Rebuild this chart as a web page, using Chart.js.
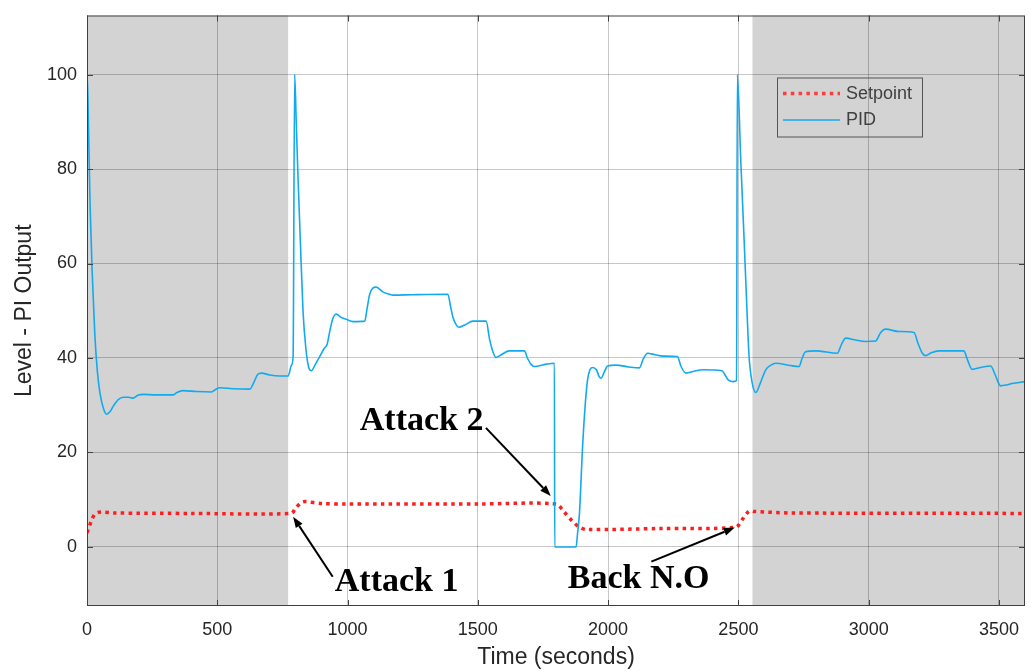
<!DOCTYPE html>
<html>
<head>
<meta charset="utf-8">
<script src="https://cdn.jsdelivr.net/npm/chart.js@4"></script>
<style>
  html, body { margin: 0; padding: 0; background: #fff; }
</style>
</head>
<body>
<canvas id="chart" width="1031" height="671"></canvas>
<script>
// PID output (time in seconds, level)
const pidTime = [0, 1, 6, 12, 20, 30, 40, 50, 62, 75, 88, 101, 120, 139, 160, 177, 195, 216, 260, 331, 345, 369, 420, 478, 495, 510, 560, 625, 640, 655, 670, 701, 740, 772, 785, 791,
  797, 803, 810, 818, 829, 840, 850, 861, 875, 893, 910, 921, 933, 944, 957, 975, 995, 1021, 1066, 1075, 1085, 1097, 1110, 1135, 1161, 1174, 1250, 1385, 1395, 1405, 1417, 1427, 1450, 1481,
  1532, 1545, 1560, 1570, 1590, 1621, 1679, 1690, 1705, 1717, 1762, 1794, 1795, 1877, 1883, 1890, 1902, 1912, 1921, 1930, 1940, 1955, 1966, 1973, 1985, 1998, 2030, 2080, 2120, 2135,
  2151, 2180, 2209, 2266, 2280, 2299, 2330, 2362, 2437, 2450, 2462, 2480, 2493, 2496, 2509, 2522, 2533, 2541, 2552, 2567, 2585, 2605, 2625, 2643, 2700, 2733, 2745, 2758, 2797, 2880,
  2895, 2912, 2950, 2988, 3027, 3045, 3065, 3116, 3174, 3190, 3206, 3218, 3240, 3269, 3365, 3380, 3397, 3430, 3468, 3485, 3499, 3506, 3530, 3550, 3600];
const pidLevel = [0, 100, 88, 72, 58, 45, 37, 32.5, 29.5, 28.1, 28.6, 29.8, 31.2, 31.7, 31.7, 31.5, 32.1, 32.3, 32.2, 32.2, 32.7, 33.1, 32.9, 32.8, 33.4, 33.7, 33.5, 33.4, 34.8, 36.5, 36.8, 36.4, 36.2, 36.2, 38.5, 40.3,
  100, 90, 78, 66, 50, 42, 38.2, 37.3, 38.5, 40.3, 42, 42.8, 46, 48.4, 49.3, 48.6, 48.2, 47.7, 47.8, 50.5, 53.5, 54.8, 55.0, 54.0, 53.5, 53.3, 53.4, 53.5, 51, 48.5, 47.0, 46.5, 47, 47.8,
  47.8, 44, 41, 40.1, 40.7, 41.5, 41.5, 40, 38.6, 38.2, 38.7, 38.9, 0, 0, 3, 7.1, 21.2, 30, 35.3, 37.5, 38.0, 37.5, 36, 35.7, 37, 38.3, 38.5, 38.1, 37.9, 39.8,
  41.0, 40.7, 40.4, 40.3, 38.2, 36.8, 37.2, 37.5, 37.3, 36.3, 35.3, 35.0, 35.2, 100, 82, 65, 50, 40.3, 35, 32.7, 34.8, 37.5, 38.5, 38.9, 38.4, 38.2, 40, 41.3, 41.5, 41.0,
  42.8, 44.2, 43.8, 43.5, 43.6, 45.3, 46.1, 45.6, 45.4, 43, 41.0, 40.5, 41.1, 41.5, 41.5, 39.5, 37.6, 38, 38.3, 36.5, 34.6, 34.1, 34.3, 34.6, 35.0];

// Setpoint
const spTime = [0, 10, 20, 30, 42, 60, 100, 400, 784, 800, 823, 838, 900, 995, 1500, 1800, 1830, 1864, 1890, 1915, 2200, 2490, 2515, 2541, 2560, 2700, 3600];
const spLevel = [3.0, 4.5, 6.0, 6.9, 7.3, 7.4, 7.2, 7.1, 7.1, 8.2, 9.4, 9.6, 9.2, 9.1, 9.1, 9.1, 7.5, 5.4, 4.2, 3.7, 3.9, 4.2, 5.8, 7.6, 7.5, 7.2, 7.1];

const xTicks = [0, 500, 1000, 1500, 2000, 2500, 3000, 3500];
const yTicks = [0, 20, 40, 60, 80, 100];

// normal-operation periods (grey)
const shadedSpans = [[0, 772], [2554, 3600]];

const notes = [
  { text: 'Attack 1', tx: 951, ty: -9.3, from: [943, -6.3], to: [791, 6.4] },
  { text: 'Attack 2', tx: 1047, ty: 24.8, from: [1531, 25.2], to: [1780, 10.8] },
  { text: 'Back N.O', tx: 1845, ty: -8.7, from: [2166, -3.1], to: [2486, 4.1] }
];

const sans = '"Liberation Sans", Arial, sans-serif';
const gridColor = 'rgba(0,0,0,0.22)';

const shadePlugin = {
  id: 'shade',
  beforeDraw(chart) {
    const { ctx, chartArea: a, scales: { x } } = chart;
    ctx.save();
    ctx.fillStyle = '#d3d3d3';
    shadedSpans.forEach(([s, e]) => {
      const x0 = Math.max(x.getPixelForValue(s), a.left);
      const x1 = Math.min(x.getPixelForValue(e), a.right);
      ctx.fillRect(x0, a.top, x1 - x0, a.bottom - a.top);
    });
    ctx.restore();
  }
};

function arrow(ctx, x0, y0, x1, y1) {
  const ang = Math.atan2(y1 - y0, x1 - x0);
  const len = 11, w = 4;
  ctx.beginPath();
  ctx.moveTo(x0, y0);
  ctx.lineTo(x1 - Math.cos(ang) * len, y1 - Math.sin(ang) * len);
  ctx.stroke();
  ctx.beginPath();
  ctx.moveTo(x1, y1);
  ctx.lineTo(x1 - Math.cos(ang) * len - Math.sin(ang) * w, y1 - Math.sin(ang) * len + Math.cos(ang) * w);
  ctx.lineTo(x1 - Math.cos(ang) * len + Math.sin(ang) * w, y1 - Math.sin(ang) * len - Math.cos(ang) * w);
  ctx.closePath();
  ctx.fill();
}

const overlayPlugin = {
  id: 'overlay',
  afterDraw(chart) {
    const { ctx, chartArea: a, scales: { x, y } } = chart;
    ctx.save();

    // axes box + inward ticks
    ctx.strokeStyle = '#404040';
    ctx.lineWidth = 1;
    ctx.strokeRect(a.left + 0.5, a.top + 0.5, a.right - a.left - 1, a.bottom - a.top - 1);
    ctx.beginPath();
    xTicks.forEach(v => {
      const px = Math.round(x.getPixelForValue(v)) + 0.5;
      ctx.moveTo(px, a.bottom); ctx.lineTo(px, a.bottom - 6);
      ctx.moveTo(px, a.top); ctx.lineTo(px, a.top + 6);
    });
    yTicks.forEach(v => {
      const py = Math.round(y.getPixelForValue(v)) + 0.5;
      ctx.moveTo(a.left, py); ctx.lineTo(a.left + 6, py);
      ctx.moveTo(a.right, py); ctx.lineTo(a.right - 6, py);
    });
    ctx.stroke();

    // annotations
    ctx.fillStyle = '#000';
    ctx.strokeStyle = '#000';
    ctx.lineWidth = 2;
    ctx.font = 'bold 34px "Liberation Serif", "Times New Roman", serif';
    ctx.textBaseline = 'alphabetic';
    ctx.textAlign = 'left';
    notes.forEach(n => {
      ctx.fillText(n.text, x.getPixelForValue(n.tx), y.getPixelForValue(n.ty));
      arrow(ctx, x.getPixelForValue(n.from[0]), y.getPixelForValue(n.from[1]),
        x.getPixelForValue(n.to[0]), y.getPixelForValue(n.to[1]));
    });

    // legend
    const lx = a.left + 690, ly = a.top + 62;
    ctx.strokeStyle = '#555';
    ctx.lineWidth = 1;
    ctx.strokeRect(lx + 0.5, ly + 0.5, 145, 59);
    ctx.font = '18px ' + sans;
    ctx.fillStyle = '#404040';
    ctx.textBaseline = 'middle';
    ctx.strokeStyle = '#ff3b3b';
    ctx.lineWidth = 3.5;
    ctx.setLineDash([3.5, 4.3]);
    ctx.beginPath();
    ctx.moveTo(lx + 6, ly + 16); ctx.lineTo(lx + 63, ly + 16);
    ctx.stroke();
    ctx.setLineDash([]);
    ctx.fillText('Setpoint', lx + 69, ly + 17);
    ctx.strokeStyle = '#11aaf0';
    ctx.lineWidth = 1.5;
    ctx.beginPath();
    ctx.moveTo(lx + 6, ly + 42.5); ctx.lineTo(lx + 63, ly + 42.5);
    ctx.stroke();
    ctx.fillText('PID', lx + 69, ly + 43);

    ctx.restore();
  }
};

new Chart(document.getElementById('chart'), {
  type: 'line',
  data: {
    datasets: [
      {
        label: 'Setpoint',
        data: spTime.map((t, i) => ({ x: t, y: spLevel[i] })),
        borderColor: '#ff1e1e',
        borderWidth: 3.5,
        borderDash: [3.5, 4.3],
        borderCapStyle: 'butt',
        pointRadius: 0,
        tension: 0.3,
        order: 2
      },
      {
        label: 'PID',
        data: pidTime.map((t, i) => ({ x: t, y: pidLevel[i] })),
        borderColor: '#11aaf0',
        borderWidth: 1.6,
        pointRadius: 0,
        cubicInterpolationMode: 'monotone',
        order: 1
      }
    ]
  },
  options: {
    responsive: false,
    devicePixelRatio: 1,
    animation: false,
    layout: { padding: { top: 15.5, right: 6, left: 0, bottom: 0 } },
    plugins: {
      legend: { display: false },
      tooltip: { enabled: false }
    },
    scales: {
      x: {
        type: 'linear',
        min: 0,
        max: 3600,
        afterFit(s) { s.height = 65; s.paddingLeft = 0; s.paddingRight = 0; },
        afterBuildTicks(s) { s.ticks = xTicks.map(v => ({ value: v })); },
        grid: { color: gridColor, drawTicks: false },
        border: { display: false },
        ticks: { color: '#262626', padding: 13, maxRotation: 0, font: { family: sans, size: 18 }, callback: v => String(v) },
        title: { display: true, text: 'Time (seconds)', color: '#262626', padding: { top: 0, bottom: 0 }, font: { family: sans, size: 23 } }
      },
      y: {
        min: -12.5,
        max: 112.5,
        afterFit(s) { s.width = 87; s.paddingTop = 0; s.paddingBottom = 0; },
        afterBuildTicks(s) { s.ticks = yTicks.map(v => ({ value: v })); },
        grid: { color: gridColor, drawTicks: false },
        border: { display: false },
        ticks: { color: '#262626', padding: 10, font: { family: sans, size: 18 }, callback: v => String(v) },
        title: { display: true, text: 'Level - PI Output', color: '#262626', padding: { top: 11, bottom: 0 }, font: { family: sans, size: 23 } }
      }
    }
  },
  plugins: [shadePlugin, overlayPlugin]
});
</script>
</body>
</html>
